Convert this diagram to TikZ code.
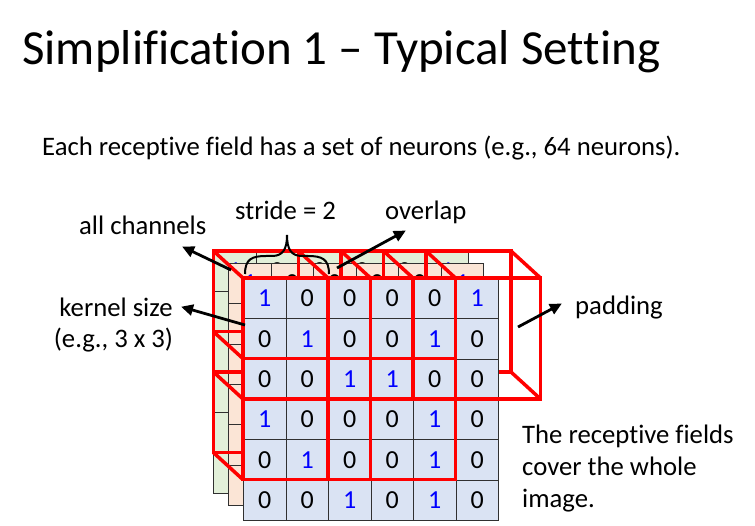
\documentclass[tikz,border=0pt]{standalone}
\usepackage{fontspec}
\setmainfont{Carlito}[Ligatures={NoCommon}]
\usetikzlibrary{arrows.meta}
\definecolor{cellblue}{HTML}{DAE3F3}
\definecolor{cellpeach}{HTML}{FBE5D6}
\definecolor{cellgreen}{HTML}{E2F0D9}
\definecolor{gridline}{HTML}{303030}
\definecolor{digitblue}{HTML}{0000FF}
\definecolor{boxred}{HTML}{FF0000}
\newcommand\mydigit[1]{\ifnum#1=1 \textcolor{digitblue}{1}\else 0\fi}
\newcommand\mylayer[4]{% name, x0, y0, fill
  \foreach \rowvals [count=\r] in {{1,0,0,0,0,1},{0,1,0,0,1,0},{0,0,1,1,0,0},{1,0,0,0,1,0},{0,1,0,0,1,0},{0,0,1,0,1,0}}{
    \foreach \v [count=\c] in \rowvals {
      \node[cellbox, fill=#4] (#1-\r-\c) at ({#2+(\c-1)*42.5},{#3+(\r-1)*40.33}) {\mydigit{\v}};
    }
  }
}
\begin{document}
\begin{tikzpicture}[x=1pt,y=-1pt,
  cellbox/.style={draw=gridline, line width=0.9pt, anchor=north west, minimum width=42.5pt, minimum height=40.33pt, inner sep=0pt, font=\fontsize{26}{26}\selectfont},
  lbl/.style={inner sep=0pt, anchor=base west, font=\fontsize{26.7}{32}\selectfont},
  redline/.style={draw=boxred, line width=3.5pt, line join=miter},
  arr/.style={draw=black, line width=2.8pt, -{Triangle[length=12pt,width=11pt]}, shorten >=-1pt},
  bracestyle/.style={draw=black, line width=2pt}]
\useasboundingbox (0,0) rectangle (755,526);
\fill[white] (0,0) rectangle (755,526);

% texts
\node[lbl, font=\fontsize{49}{52}\selectfont] (title) at (22,65) {Simplification 1 \textendash{} Typical Setting};
\node[lbl] (sentence) at (42,156) {Each receptive field has a set of neurons (e.g., 64 neurons).};
\node[lbl] (stride) at (235,220) {stride = 2};
\node[lbl] (overlap) at (385,220) {overlap};
\node[lbl] (channels) at (79,235) {all channels};
\node[lbl, anchor=base] (kernelA) at (116,317) {kernel size};
\node[lbl, anchor=base] (kernelB) at (113.5,348) {(e.g., 3 x 3)};
\node[lbl] (padding) at (575,315) {padding};
\node[lbl] (coverA) at (522,443) {The receptive fields};
\node[lbl] (coverB) at (522,475) {cover the whole};
\node[lbl] (coverC) at (522,507) {image.};

% back layers
\mylayer{g}{213}{251}{cellgreen}
\mylayer{p}{228}{263}{cellpeach}

% back faces of receptive fields
\foreach \c/\r [count=\k] in {0/0,2/0,4/0,0/2,2/2}{
  \coordinate (b\k) at ({243+\c*42.5-29.5},{278+\r*40.33-27});
  \coordinate (f\k) at ({243+\c*42.5},{278+\r*40.33});
  \draw[redline] (b\k) rectangle ++(127.5,121);
  \draw[redline] (b\k) -- (f\k);
  \draw[redline] (b\k) ++(127.5,0) -- ++(29.5,27);
  \draw[redline] (b\k) ++(0,121) -- ++(29.5,27);
  \draw[redline] (b\k) ++(127.5,121) -- ++(29.5,27);
}

% front layer
\mylayer{f}{243}{278}{cellblue}

% front faces
\foreach \k in {1,...,5}{
  \draw[redline] (f\k) rectangle ++(127.5,121);
}

% brace
\draw[bracestyle] (245,274) .. controls (245,259) and (252,256) .. (266,256) -- (272,256)
  .. controls (283,256) and (287,249) .. (287,235)
  .. controls (287,249) and (291,256) .. (302,256) -- (308,256)
  .. controls (322,256) and (329,259) .. (329,274);

% arrows
\coordinate (chTail) at (231,270);
\coordinate (chTip) at (183,247);
\coordinate (kTail) at (245,325);
\coordinate (kTip) at (182,307);
\coordinate (oTail) at (337,268);
\coordinate (oTip) at (405,231);
\coordinate (pTail) at (518,327);
\coordinate (pTip) at (561,304);
\draw[arr] (chTail) -- (chTip);
\draw[arr] (kTail) -- (kTip);
\draw[arr] (oTail) -- (oTip);
\draw[arr] (pTail) -- (pTip);
\end{tikzpicture}
\end{document}
